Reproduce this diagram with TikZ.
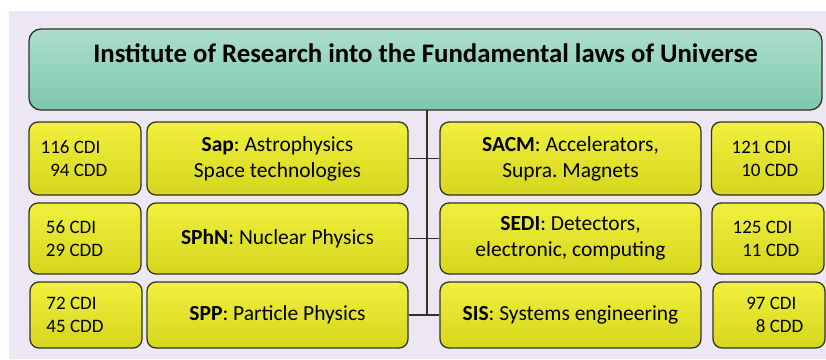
\documentclass[tikz,border=0pt]{standalone}
\usepackage{fontspec}
\setmainfont{Carlito}
\usetikzlibrary{positioning}
\frenchspacing

\definecolor{pagebg}{RGB}{236,231,242}
\definecolor{edgegray}{RGB}{50,50,40}
\definecolor{tealtop}{RGB}{172,222,204}
\definecolor{tealbot}{RGB}{124,200,172}
\definecolor{yeltop}{RGB}{240,240,62}
\definecolor{yelbot}{RGB}{214,214,30}

\begin{document}
\begin{tikzpicture}[x=1pt,y=-1pt,line width=1.3pt,
  inst box/.style={rounded corners=12pt,draw=edgegray,top color=tealtop,bottom color=tealbot,
    minimum width=793pt,minimum height=81pt,inner sep=0pt},
  unit box/.style={rounded corners=9pt,draw=edgegray,top color=yeltop,bottom color=yelbot,
    inner sep=0pt,align=center,font=\fontsize{21.5}{26}\selectfont},
  count box/.style={unit box,minimum width=112pt},
  dept box/.style={unit box,minimum width=261pt},
  count text/.style={align=left,inner sep=0pt,font=\fontsize{19}{23}\selectfont}]

\fill[pagebg] (9,11) rectangle (826,359);
\useasboundingbox (0,0) rectangle (826,359);

% top institute
\node[inst box] (irfu) at (425.5,69.5) {};
\node[font=\fontsize{26.8}{30}\selectfont\bfseries] (irfutitle) at (425.5,53)
  {Institute of Research into the Fundamental laws of Universe};

% left column
\node[count box,minimum height=73pt] (c1) at (85,158.5) {};
\node[count box,minimum height=71pt] (c2) at (85,238.5) {};
\node[count box,minimum height=66pt] (c3) at (86,315) {};
\node[count text] (c1t) at (74,159) {116 CDI\\\phantom{1}94 CDD};
\node[count text] (c2t) at (74.5,239) {56 CDI\\29 CDD};
\node[count text] (c3t) at (75,315) {72 CDI\\45 CDD};

\node[dept box,minimum height=73pt] (sap) at (277.5,158.5) {\textbf{Sap}: Astrophysics\\Space technologies};
\node[dept box,minimum height=71pt] (sphn) at (277.5,238.5) {\textbf{SPhN}: Nuclear Physics};
\node[dept box,minimum height=66pt] (spp) at (277.5,315) {\textbf{SPP}: Particle Physics};

% right column
\node[dept box,minimum height=73pt] (sacm) at (570.5,158.5) {\textbf{SACM}: Accelerators,\\Supra. Magnets};
\node[dept box,minimum height=71pt] (sedi) at (570.5,238.5) {\textbf{SEDI}: Detectors,\\electronic, computing};
\node[dept box,minimum height=66pt] (sis) at (570.5,315) {\textbf{SIS}: Systems engineering};

\node[count box,minimum height=73pt] (c4) at (767.5,158.5) {};
\node[count box,minimum height=71pt] (c5) at (768,238.5) {};
\node[count box,minimum height=66pt] (c6) at (769,315) {};
\node[count text] (c4t) at (765,159) {121 CDI\\\phantom{1}10 CDD};
\node[count text] (c5t) at (766,239) {125 CDI\\\phantom{1}11 CDD};
\node[count text] (c6t) at (770,315) {\phantom{1}97 CDI\\\phantom{19}8 CDD};

% links
\coordinate (spine) at (427,110);
\draw[edgegray] (spine) -- (spine |- spp.east);
\draw[edgegray] (sap) -- (sacm);
\draw[edgegray] (sphn) -- (sedi);
\draw[edgegray] (spp) -- (sis);

\end{tikzpicture}
\end{document}
